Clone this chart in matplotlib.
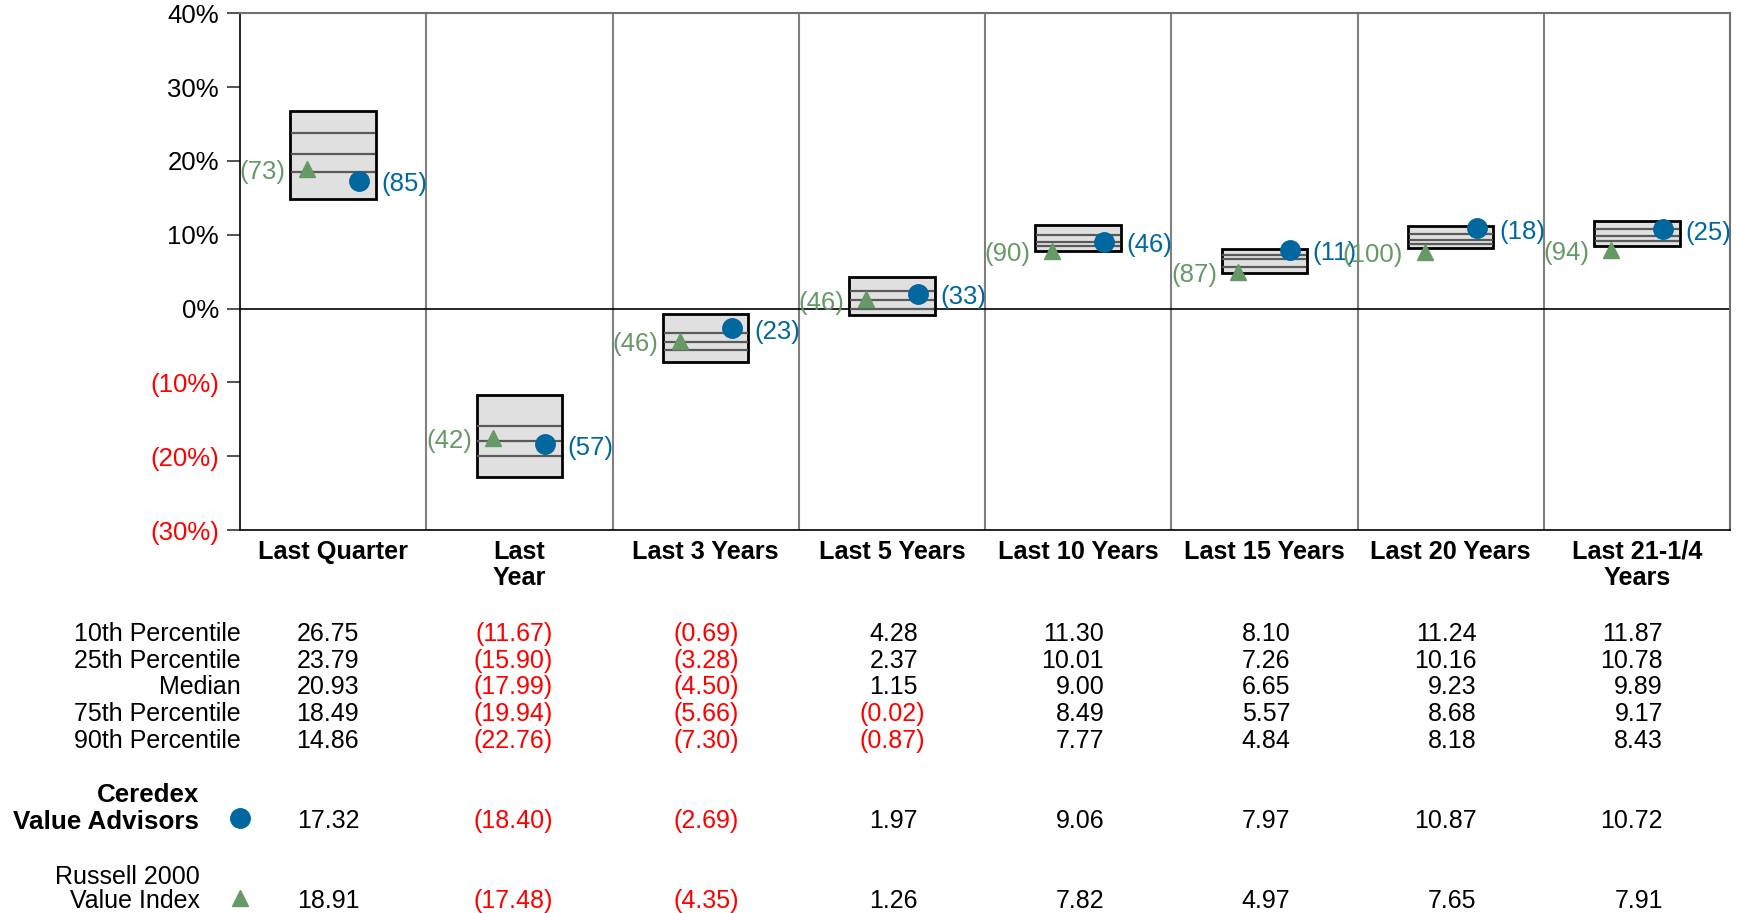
import matplotlib
matplotlib.use("Agg")
import matplotlib.pyplot as plt
import matplotlib.transforms as mtransforms
import numpy as np

plt.rcParams["font.family"] = ["Liberation Sans", "DejaVu Sans"]

# ── Data ─────────────────────────────────────────────────────────────────────
periods = ["Last Quarter", "Last\nYear", "Last 3 Years", "Last 5 Years",
           "Last 10 Years", "Last 15 Years", "Last 20 Years", "Last 21-1/4\nYears"]
p10 = [26.75, -11.67, -0.69, 4.28, 11.30, 8.10, 11.24, 11.87]
p25 = [23.79, -15.90, -3.28, 2.37, 10.01, 7.26, 10.16, 10.78]
med = [20.93, -17.99, -4.50, 1.15, 9.00, 6.65, 9.23, 9.89]
p75 = [18.49, -19.94, -5.66, -0.02, 8.49, 5.57, 8.68, 9.17]
p90 = [14.86, -22.76, -7.30, -0.87, 7.77, 4.84, 8.18, 8.43]
ceredex = [17.32, -18.40, -2.69, 1.97, 9.06, 7.97, 10.87, 10.72]
ceredex_rank = [85, 57, 23, 33, 46, 11, 18, 25]
russell = [18.91, -17.48, -4.35, 1.26, 7.82, 4.97, 7.65, 7.91]
russell_rank = [73, 42, 46, 46, 90, 87, 100, 94]
yticks = [40, 30, 20, 10, 0, -10, -20, -30]
pct_labels = ["10th Percentile", "25th Percentile", "Median",
              "75th Percentile", "90th Percentile"]

BLUE = "#00679f"
GREEN = "#669966"
RED = "#ff0000"
FS = 18

W, H = 1743, 913
fig = plt.figure(figsize=(W / 100, H / 100), dpi=100, facecolor="white")
ax = fig.add_axes([240 / W, 1 - 530 / H, 1490 / W, (530 - 13.3) / H])
ax.set_xlim(0, 8)
ax.set_ylim(-30, 40)

n = len(periods)
x = np.arange(n)

# column dividers and zero line
for i in range(1, n):
    ax.axvline(i, color="#808080", lw=1.5, zorder=1)
ax.axhline(0, color="black", lw=1.2, zorder=1)

# ── Boxes ────────────────────────────────────────────────────────────────────
bw = 0.46
heights = [a - b for a, b in zip(p10, p90)]
ax.bar(x + 0.5, heights, bw, bottom=p90, color="#e0e0e0",
       edgecolor="black", linewidth=2, zorder=2)
for vals in (p25, med, p75):
    ax.hlines(vals, x + 0.5 - bw / 2 + 0.004, x + 0.5 + bw / 2 - 0.004,
              color="#5a5a5a", lw=1.6, zorder=3)

# ── Markers and ranks ───────────────────────────────────────────────────────
ax.plot(x + 0.36, russell, ls="none", marker="^", ms=12, color=GREEN, zorder=4)
ax.plot(x + 0.64, ceredex, ls="none", marker="o", ms=14, color=BLUE, zorder=5)
dy = 0.45  # labels sit a little below the marker centre
for i in range(n):
    ax.text(i + 0.245, russell[i] - dy, f"({russell_rank[i]})", ha="right", va="center",
            fontsize=18.5, color=GREEN, zorder=6)
    ax.text(i + 0.76, ceredex[i] - dy, f"({ceredex_rank[i]})", ha="left", va="center",
            fontsize=18.5, color=BLUE, zorder=6)

# ── Axes styling ─────────────────────────────────────────────────────────────
ax.set_yticks(yticks)
ax.set_yticklabels([f"{v}%" if v >= 0 else f"({abs(v)}%)" for v in yticks])
for lab, v in zip(ax.get_yticklabels(), yticks):
    lab.set_color(RED if v < 0 else "black")
ax.tick_params(axis="y", length=9.6, width=1.2, pad=5.5, labelsize=18.5, color="#333333")

ax.set_xticks(x + 0.5)
ax.set_xticklabels(periods, fontweight="bold", fontsize=18.2, linespacing=1.12)
ax.tick_params(axis="x", length=0, pad=7)

ax.spines["left"].set_color("black")
ax.spines["left"].set_linewidth(1.2)
ax.spines["bottom"].set_color("black")
ax.spines["bottom"].set_linewidth(1.2)
for s in ("top", "right"):
    ax.spines[s].set_color("#707070")
    ax.spines[s].set_linewidth(1.5)

# ── Table below chart ───────────────────────────────────────────────────────
tr = mtransforms.blended_transform_factory(ax.transData, fig.transFigure)

def fy(py):
    return 1 - py / H

def fmt(v):
    return f"{v:.2f}" if v >= 0 else f"({abs(v):.2f})"

def put_value(i, v, py):
    xr = i + 0.64 if v >= 0 else i + 0.678
    ax.text(xr, fy(py), fmt(v), transform=tr, ha="right", va="center",
            fontsize=FS, color=RED if v < 0 else "black", clip_on=False)

row_y = [634, 660.7, 687.4, 714, 740.7]
for label, vals, py in zip(pct_labels, [p10, p25, med, p75, p90], row_y):
    ax.text(0.005, fy(py), label, transform=tr, ha="right", va="center",
            fontsize=FS, clip_on=False)
    for i, v in enumerate(vals):
        put_value(i, v, py)

# Ceredex row
ax.text(-0.22, fy(795), "Ceredex", transform=tr, ha="right", va="center",
        fontsize=18.7, fontweight="bold", clip_on=False)
ax.text(-0.22, fy(822), "Value Advisors", transform=tr, ha="right", va="center",
        fontsize=18.7, fontweight="bold", clip_on=False)
ax.plot([0], [fy(818)], transform=tr, marker="o", ms=14, color=BLUE,
        ls="none", clip_on=False)
for i, v in enumerate(ceredex):
    put_value(i, v, 821)

# Russell row
ax.text(-0.215, fy(877), "Russell 2000", transform=tr, ha="right", va="center",
        fontsize=FS, clip_on=False)
ax.text(-0.215, fy(901), "Value Index", transform=tr, ha="right", va="center",
        fontsize=FS, clip_on=False)
ax.plot([0], [fy(898)], transform=tr, marker="^", ms=12, color=GREEN,
        ls="none", clip_on=False)
for i, v in enumerate(russell):
    put_value(i, v, 900.5)

fig.savefig("out.png", dpi=100, facecolor="white")
